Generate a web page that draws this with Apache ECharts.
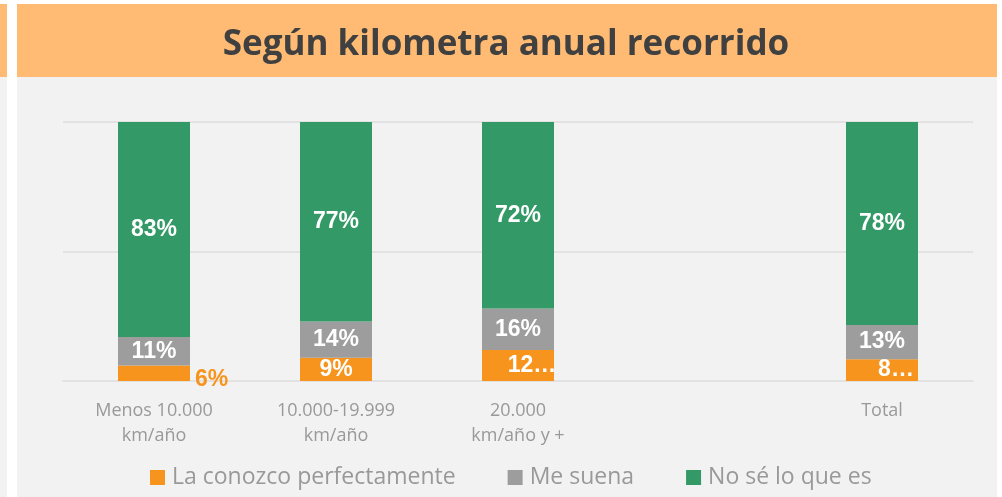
<!DOCTYPE html>
<html>
<head>
<meta charset="utf-8">
<script src="https://cdn.jsdelivr.net/npm/echarts@6/dist/echarts.min.js"></script>
<style>
  html, body { margin: 0; padding: 0; background: #fff; }
  #chart { width: 1002px; height: 497px; }
</style>
</head>
<body>
<div id="chart"></div>
<script>
// categorias (la cuarta va vacia, como en el original)
var categorias = ['Menos 10.000\nkm/año', '10.000-19.999\nkm/año', '20.000\nkm/año y +', '', 'Total'];
var laConozco = [6, 9, 12, null, 8.4];
var meSuena = [11, 14, 16, null, 13.2];
var noSe = [83, 77, 72, null, 78.4];
var ticksY = [0, 50, 100];

var naranja = '#F7941E';
var gris = '#9D9D9D';
var verde = '#339966';

var etiqueta = {
  show: true,
  color: '#fff',
  fontFamily: 'Liberation Sans, Arial, sans-serif',
  fontWeight: 'bold',
  fontSize: 23,
  formatter: function (p) { return Math.round(p.value) + '%'; }
};

// etiquetas especiales de la serie naranja (como salen en Excel)
var datosNaranja = laConozco.map(function (v, i) {
  if (v === null) return '-';
  if (i === 0) {
    return { value: v, label: { position: 'right', color: naranja, offset: [0, 6] } };
  }
  if (i === 2 || i === 4) {
    return { value: v, label: { formatter: Math.round(v) + '…', offset: [14, 0] } };
  }
  return v;
});

var myChart = echarts.init(document.getElementById('chart'));
myChart.setOption({
  animation: false,
  backgroundColor: '#fff',
  graphic: [
    { type: 'rect', silent: true, z: -10, shape: { x: 0, y: 4, width: 7, height: 73 }, style: { fill: '#FFBB73' } },
    { type: 'rect', silent: true, z: -10, shape: { x: 0, y: 77, width: 7, height: 420 }, style: { fill: '#F2F2F2' } },
    { type: 'rect', silent: true, z: -10, shape: { x: 17, y: 4, width: 980, height: 73 }, style: { fill: '#FFBB73' } },
    { type: 'rect', silent: true, z: -10, shape: { x: 17, y: 77, width: 980, height: 420 }, style: { fill: '#F2F2F2' } }
  ],
  title: {
    text: 'Según kilometra anual recorrido',
    left: 501,
    textAlign: 'center',
    top: 23,
    textStyle: {
      fontFamily: 'Open Sans, sans-serif',
      fontWeight: 'bold',
      fontSize: 35,
      color: '#404040'
    }
  },
  legend: {
    top: 461,
    left: 145,
    itemWidth: 15,
    itemHeight: 15,
    itemGap: 52,
    icon: 'rect',
    textStyle: {
      fontFamily: 'Open Sans, sans-serif',
      fontSize: 23,
      padding: [0, 0, 0, 2],
      color: '#999'
    },
    data: ['La conozco perfectamente', 'Me suena', 'No sé lo que es']
  },
  grid: {
    left: 63,
    right: 29,
    top: 122,
    bottom: 116
  },
  xAxis: {
    type: 'category',
    data: categorias,
    axisLine: { lineStyle: { color: '#E2E2E2', width: 2 } },
    axisTick: { show: false },
    axisLabel: {
      margin: 17,
      fontFamily: 'Open Sans, sans-serif',
      fontSize: 18,
      lineHeight: 25,
      color: '#999'
    }
  },
  yAxis: {
    type: 'value',
    min: ticksY[0],
    max: ticksY[ticksY.length - 1],
    interval: 50,
    axisLabel: { show: false },
    axisLine: { show: false },
    axisTick: { show: false },
    splitLine: { lineStyle: { color: '#E2E2E2', width: 2 } }
  },
  series: [
    {
      name: 'La conozco perfectamente',
      type: 'bar',
      stack: 'total',
      barWidth: 72,
      itemStyle: { color: naranja },
      label: etiqueta,
      data: datosNaranja
    },
    {
      name: 'Me suena',
      type: 'bar',
      stack: 'total',
      itemStyle: { color: gris },
      label: etiqueta,
      data: meSuena.map(function (v) { return v === null ? '-' : v; })
    },
    {
      name: 'No sé lo que es',
      type: 'bar',
      stack: 'total',
      itemStyle: { color: verde },
      label: etiqueta,
      data: noSe.map(function (v) { return v === null ? '-' : v; })
    }
  ]
});
</script>
</body>
</html>
